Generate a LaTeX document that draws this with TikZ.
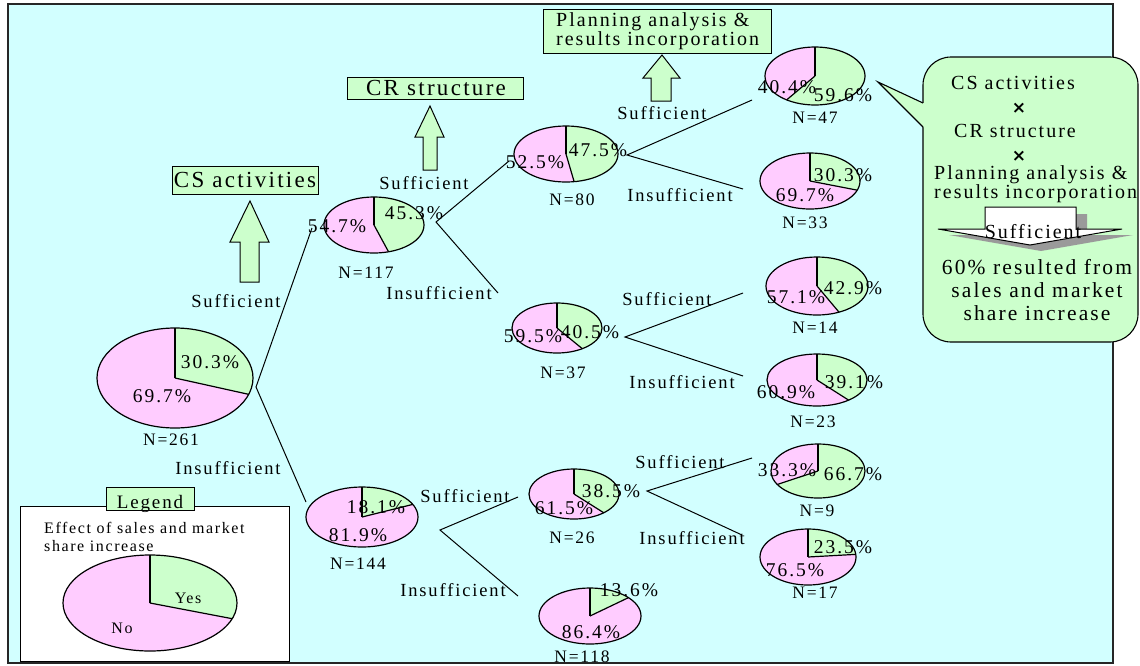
\documentclass[tikz,border=0pt]{standalone}
\usepackage{fontspec}
\setmainfont{Liberation Serif}[LetterSpace=10, Ligatures={TeX,NoCommon}]
\newfontfamily\crossfont{DejaVu Sans}
\definecolor{pinkfill}{HTML}{FFCCFF}
\definecolor{greenfill}{HTML}{CCFFCC}
\definecolor{panelcyan}{HTML}{D2FFFF}
\definecolor{shadowgray}{HTML}{9A9A9A}

% pie chart: name, centre x, centre y, x radius, y radius, green share
\newcommand{\drawpie}[6]{%
  \coordinate (#1) at (#2,#3);
  \fill[pinkfill] (#1) ellipse[x radius=#4,y radius=#5];
  \fill[greenfill] (#1) -- ++(0,-#5)
     arc[start angle=-90,end angle={-90+360*#6},x radius=#4,y radius=#5] -- cycle;
  \draw[pieedge] (#1) -- ++(0,-#5);
  \draw[pieedge] (#1) -- ++({#4*cos(-90+360*#6)},{#5*sin(-90+360*#6)});
  \draw[pieedge] (#1) ellipse[x radius=#4,y radius=#5];
}

\begin{document}
\begin{tikzpicture}[x=1pt,y=-1pt,
  pieedge/.style={draw=black,line width=1.2pt},
  treeline/.style={draw=black,line width=1pt},
  pct/.style={font=\fontsize{19.5}{21}\selectfont,inner sep=0pt},
  cnt/.style={font=\fontsize{17.5}{19}\selectfont,inner sep=0pt},
  branchtxt/.style={font=\fontsize{18.5}{20}\selectfont,inner sep=0pt},
  headtxt/.style={font=\fontsize{23}{25}\selectfont,inner sep=0pt},
  tagbox/.style={fill=greenfill,draw=black,line width=0.9pt},
  blockarrow/.style={fill=greenfill,draw=black,line width=1pt,line join=miter},
  callouttxt/.style={font=\fontsize{20}{18}\selectfont,inner sep=0pt},
  crosstxt/.style={font=\crossfont\bfseries\fontsize{17}{17}\selectfont,inner sep=0pt},
]
\useasboundingbox (0,0) rectangle (1140,665);
\fill[white] (0,0) rectangle (1140,665);

% panel
\draw[fill=panelcyan,draw=black!85,line width=1.6pt] (8,4) rectangle (1113,663);

% ---------- headers with up arrows ----------
\draw[tagbox] (172,166) rectangle (318,194);
\node[headtxt] (hcs) at (245,180) {CS activities};
\draw[blockarrow] (250,201) -- (269,242) -- (259,242) -- (259,282) -- (240,282) -- (240,242) -- (230,242) -- cycle;

\draw[tagbox] (347,77) rectangle (523,99);
\node[headtxt] (hcr) at (436,88) {CR structure};
\draw[blockarrow] (430,106) -- (444,137) -- (437,137) -- (437,170) -- (423,170) -- (423,137) -- (415,137) -- cycle;

\draw[tagbox] (543,9) rectangle (771,53);
\node[font=\fontsize{20}{17}\selectfont,inner sep=0pt,align=left,anchor=west] (hpa) at (556,31)
  {Planning analysis \&\\results incorporation};
\draw[blockarrow] (662,55) -- (680,78) -- (671,78) -- (671,101) -- (651,101) -- (651,78) -- (643,78) -- cycle;

% ---------- tree connectors ----------
\coordinate (b261) at (256,387);
\coordinate (e261s) at (312,228);
\coordinate (e261i) at (306,502);
\coordinate (b117) at (436,222);
\coordinate (e117s) at (509,161);
\coordinate (e117i) at (498,293);
\coordinate (b80) at (627,155);
\coordinate (e80s) at (752,100);
\coordinate (e80i) at (743,189);
\coordinate (b37) at (625,337);
\coordinate (e37s) at (743,293);
\coordinate (e37i) at (743,376);
\coordinate (b144) at (440,530);
\coordinate (e144s) at (518,497);
\coordinate (e144i) at (518,596);
\coordinate (b26) at (647,491);
\coordinate (e26s) at (752,458);
\coordinate (e26i) at (742,535);
\foreach \b in {261,117,80,37,144,26}{
  \draw[treeline] (e\b s) -- (b\b) -- (e\b i);
}

% ---------- pies ----------
\drawpie{p261}{175}{378}{78}{50}{0.303}
\drawpie{p117}{374}{225}{50}{28}{0.453}
\drawpie{p80}{566}{154}{52}{28}{0.475}
\drawpie{p47}{815}{76}{50}{29}{0.596}
\drawpie{p33}{810}{181}{50}{28}{0.303}
\drawpie{p37}{557}{328}{45}{25}{0.405}
\drawpie{p14}{817}{286}{51}{29}{0.429}
\drawpie{p23}{817}{380}{50}{26}{0.391}
\drawpie{p144}{362}{517}{56}{30}{0.181}
\drawpie{p26}{574}{494}{45}{25}{0.385}
\drawpie{p118}{590}{616}{51}{28}{0.136}
\drawpie{p9}{818}{471}{47}{27}{0.667}
\drawpie{p17}{808}{557}{48}{28}{0.235}

% ---------- pie labels ----------
\node[pct] (t261g) at (210,362) {30.3\%};
\node[pct] (t261p) at (162,396) {69.7\%};
\node[cnt] (n261) at (171,440) {N=261};
\node[pct] (t117p) at (337,226) {54.7\%};
\node[pct] (t117g) at (414,213) {45.3\%};
\node[cnt] (n117) at (366,273) {N=117};
\node[pct] (t80p) at (535,162) {52.5\%};
\node[pct] (t80g) at (598,150) {47.5\%};
\node[cnt] (n80) at (572,200) {N=80};
\node[pct] (t47p) at (787,87) {40.4\%};
\node[pct] (t47g) at (843,95) {59.6\%};
\node[cnt] (n47) at (815,118) {N=47};
\node[pct] (t33g) at (843,175) {30.3\%};
\node[pct] (t33p) at (805,195) {69.7\%};
\node[cnt] (n33) at (805,223) {N=33};
\node[pct] (t37p) at (533,336) {59.5\%};
\node[pct] (t37g) at (590,332) {40.5\%};
\node[cnt] (n37) at (563,373) {N=37};
\node[pct] (t14p) at (796,297) {57.1\%};
\node[pct] (t14g) at (853,288) {42.9\%};
\node[cnt] (n14) at (815,328) {N=14};
\node[pct] (t23p) at (786,392) {60.9\%};
\node[pct] (t23g) at (854,382) {39.1\%};
\node[cnt] (n23) at (813,422) {N=23};
\node[pct] (t144g) at (376,507) {18.1\%};
\node[pct] (t144p) at (358,535) {81.9\%};
\node[cnt] (n144) at (358,564) {N=144};
\node[pct] (t26g) at (611,491) {38.5\%};
\node[pct] (t26p) at (564,508) {61.5\%};
\node[cnt] (n26) at (572,538) {N=26};
\node[pct] (t118g) at (629,590) {13.6\%};
\node[pct] (t118p) at (591,632) {86.4\%};
\node[cnt] (n118) at (582,657) {N=118};
\node[pct] (t9p) at (787,470) {33.3\%};
\node[pct] (t9g) at (853,474) {66.7\%};
\node[cnt] (n9) at (817,511) {N=9};
\node[pct] (t17g) at (843,547) {23.5\%};
\node[pct] (t17p) at (795,570) {76.5\%};
\node[cnt] (n17) at (815,593) {N=17};

% ---------- branch labels ----------
\node[branchtxt] (s261) at (236,301) {Sufficient};
\node[branchtxt] (i261) at (228,468) {Insufficient};
\node[branchtxt] (s117) at (424,183) {Sufficient};
\node[branchtxt] (i117) at (439,293) {Insufficient};
\node[branchtxt] (s80) at (662,113) {Sufficient};
\node[branchtxt] (i80) at (680,195) {Insufficient};
\node[branchtxt] (s37) at (667,299) {Sufficient};
\node[branchtxt] (i37) at (682,382) {Insufficient};
\node[branchtxt] (s144) at (465,496) {Sufficient};
\node[branchtxt] (i144) at (453,590) {Insufficient};
\node[branchtxt] (s26) at (680,462) {Sufficient};
\node[branchtxt] (i26) at (692,538) {Insufficient};

% ---------- legend ----------
\draw[fill=white,draw=black,line width=1pt] (20,506) rectangle (289,661);
\draw[tagbox] (106,487) rectangle (194,510);
\node[font=\fontsize{19}{21}\selectfont,inner sep=0pt,anchor=base] (lgd) at (150,508) {Legend};
\node[font=\fontsize{16}{18}\selectfont,inner sep=0pt,align=left,anchor=west] (lgdtxt) at (44,537)
  {Effect of sales and market\\share increase};
\drawpie{plg}{150}{603}{87}{48}{0.303}
\node[font=\fontsize{16}{18}\selectfont,inner sep=0pt] (lyes) at (188,598) {Yes};
\node[font=\fontsize{16}{18}\selectfont,inner sep=0pt] (lno) at (122,628) {No};

% ---------- callout ----------
\draw[fill=greenfill,draw=black,line width=1.1pt,rounded corners=28] (923,57) rectangle (1138,342);
\fill[greenfill] (878,82) -- (923,103) -- (925.5,103) -- (925.5,127) -- (923,127) -- cycle;
\coordinate (ctip) at (878,82);
\coordinate (cup) at (923,103);
\coordinate (clow) at (923,127);
\draw[black,line width=1.1pt,line join=miter] (cup) -- (ctip) -- (clow);

\node[callouttxt] (ccs) at (1013,83) {CS activities};
\node[crosstxt] (cx1) at (1019,108) {×};
\node[callouttxt] (ccr) at (1015,131) {CR structure};
\node[crosstxt] (cx2) at (1019,156) {×};
\node[callouttxt,align=left,anchor=west] (cpa) at (934,184) {Planning analysis \&\\results incorporation};

% white block arrow with drop shadow
\fill[shadowgray] (996,214) -- (1087,214) -- (1087,235) -- (1133,235) -- (1041,251) -- (949,235) -- (996,235) -- cycle;
\draw[fill=white,draw=black,line width=1pt,line join=miter]
  (985,207) -- (1076,207) -- (1076,229) -- (1122,229) -- (1030,245) -- (938,229) -- (985,229) -- cycle;
\node[callouttxt] (csuf) at (1033,232) {Sufficient};
\node[font=\fontsize{21.5}{23}\selectfont,inner sep=0pt,align=center] (cres) at (1037,290)
  {60\% resulted from\\sales and market\\share increase};
\end{tikzpicture}
\end{document}
